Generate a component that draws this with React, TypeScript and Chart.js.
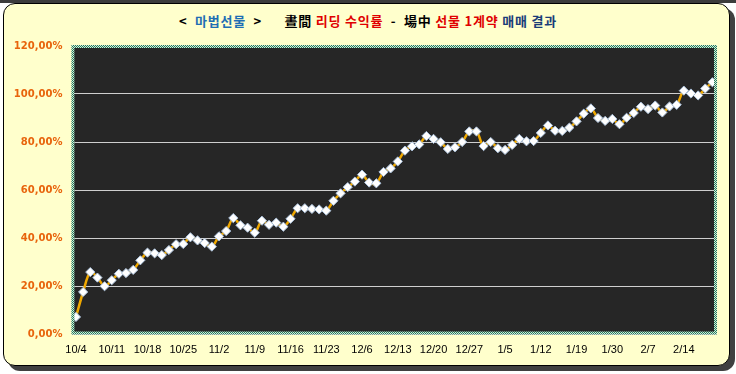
import React, { useEffect, useRef } from "react";
import { Chart, registerables } from "chart.js";

Chart.register(...registerables);

// Tick labels shown every 5 trading days
const tickLabels = [
  "10/4", "10/11", "10/18", "10/25", "11/2", "11/9", "11/16", "11/23", "12/6",
  "12/13", "12/20", "12/27", "1/5", "1/12", "1/19", "1/30", "2/7", "2/14",
];

// Cumulative return (%) per trading day
const returns = [
  7.1, 17.5, 25.8, 23.5, 19.9, 22.4, 25.1, 25.4, 26.7, 30.7,
  33.9, 33.6, 32.9, 35.0, 37.4, 37.5, 40.3, 39.0, 37.9, 36.4,
  40.7, 42.9, 48.3, 45.3, 44.3, 42.2, 47.2, 45.5, 46.4, 44.7,
  48.0, 52.4, 52.4, 52.1, 51.9, 51.4, 55.5, 58.6, 61.2, 63.5,
  66.4, 63.1, 62.8, 67.5, 69.0, 71.9, 76.4, 78.2, 79.0, 82.5,
  81.3, 79.9, 77.1, 77.8, 80.0, 84.4, 84.4, 78.3, 80.0, 77.4,
  76.7, 78.8, 81.3, 80.3, 80.4, 83.8, 86.9, 84.7, 84.6, 86.0,
  88.6, 91.8, 94.0, 90.0, 88.8, 89.6, 87.4, 90.1, 92.1, 94.7,
  93.7, 95.2, 92.3, 94.8, 95.5, 101.4, 100.2, 99.4, 102.3, 104.9,
];

const yTicks = [0, 20, 40, 60, 80, 100, 120];

// category list: tick label on every 5th trading day
const categories = returns.map((_, i) => (i % 5 === 0 ? tickLabels[i / 5] ?? "" : ""));

const plotDecor = {
  id: "plotDecor",
  beforeDraw(chart: any) {
    const { ctx, chartArea: a } = chart;
    ctx.save();
    ctx.fillStyle = "#262626";
    ctx.fillRect(a.left, a.top, a.right - a.left, a.bottom - a.top);
    ctx.restore();
  },
  afterDraw(chart: any) {
    const { ctx, chartArea: a } = chart;
    const pc = document.createElement("canvas");
    pc.width = 2;
    pc.height = 2;
    const p = pc.getContext("2d")!;
    p.fillStyle = "#d6ecd9";
    p.fillRect(0, 0, 2, 2);
    p.fillStyle = "#237a5c";
    p.fillRect(0, 0, 1, 1);
    p.fillRect(1, 1, 1, 1);
    const pat = ctx.createPattern(pc, "repeat");
    ctx.save();
    ctx.strokeStyle = pat;
    ctx.lineWidth = 3;
    ctx.strokeRect(a.left + 0.5, a.top + 0.5, a.right - a.left - 1, a.bottom - a.top - 1.5);
    ctx.restore();
  },
};

function ChartView() {
  const ref = useRef<HTMLCanvasElement | null>(null);
  useEffect(() => {
    document.body.style.margin = "0";
    const chart = new Chart(ref.current!, {
      type: "line",
      data: {
        labels: categories,
        datasets: [
          {
            data: returns,
            borderColor: "#f0a800",
            borderWidth: 2.5,
            tension: 0.35,
            pointStyle: "rectRot",
            pointRadius: 4.6,
            pointBackgroundColor: "#ffffff",
            pointBorderColor: "#a9bfd9",
            pointBorderWidth: 1,
          },
        ],
      },
      options: {
        animation: false,
        responsive: false,
        devicePixelRatio: 1,
        events: [],
        layout: { padding: { top: 46, right: 20, bottom: 0, left: 0 } },
        plugins: { legend: { display: false }, tooltip: { enabled: false }, title: { display: false } },
        scales: {
          x: {
            type: "category",
            offset: true,
            grid: { display: false, drawTicks: false },
            border: { display: false },
            afterFit: (s: any) => {
              s.height = 40;
            },
            ticks: {
              autoSkip: false,
              maxRotation: 0,
              padding: 9,
              color: "#000000",
              font: { family: "Arial, 'Liberation Sans'", size: 11 },
              callback: (_v: any, i: number) => categories[i],
            },
          },
          y: {
            min: 0,
            max: 120,
            afterBuildTicks: (s: any) => {
              s.ticks = yTicks.map((v) => ({ value: v }));
            },
            afterFit: (s: any) => {
              s.width = 72.4;
            },
            grid: { color: "#cfcfcf", lineWidth: 1, drawTicks: false },
            border: { display: false },
            ticks: {
              padding: 10,
              color: "#e8640c",
              font: { family: "'DejaVu Sans', Verdana, sans-serif", size: 10, weight: "bold" },
              callback: (v: any) => Number(v).toFixed(2).replace(".", ",") + "%",
            },
          },
        },
      },
      plugins: [plotDecor],
    });
    return () => chart.destroy();
  }, []);
  return (
    <canvas
      ref={ref}
      width={736}
      height={374}
      style={{ position: "absolute", left: 0, top: 0, width: 736, height: 374 }}
    />
  );
}

export default function App() {
  const titleFont = "'Noto Sans CJK KR', 'Noto Sans', sans-serif";
  return (
    <div style={{ position: "absolute", left: 0, top: 0, width: 736, height: 374, background: "#ffffff", overflow: "hidden" }}>
      <div style={{ position: "absolute", left: 0, top: 0, width: 736, height: 3, background: "#3c3c3c" }} />
      <div
        style={{
          position: "absolute",
          left: 3,
          top: 3,
          width: 725,
          height: 361,
          border: "1px solid #000",
          borderRadius: 12,
          background: "#ffffcc",
          boxShadow: "5px 5px 0 #404040",
        }}
      />
      <div
        style={{
          position: "absolute",
          left: 0,
          top: 12,
          width: 736,
          textAlign: "center",
          whiteSpace: "pre",
          fontFamily: titleFont,
          fontWeight: "bold",
          fontSize: 13,
          letterSpacing: "0.8px",
          lineHeight: "18px",
        }}
      >
        <span style={{ color: "#000" }}>{"<  "}</span>
        <span style={{ color: "#1e6eb4" }}>마법선물</span>
        <span style={{ color: "#000" }}>{"  >      晝間 "}</span>
        <span style={{ color: "#e00000" }}>리딩 수익률</span>
        <span style={{ color: "#000" }}>{"  -  場中 "}</span>
        <span style={{ color: "#e00000" }}>선물 1계약</span>
        <span style={{ color: "#1a3c78" }}>{" 매매 결과"}</span>
      </div>
      <ChartView />
    </div>
  );
}
